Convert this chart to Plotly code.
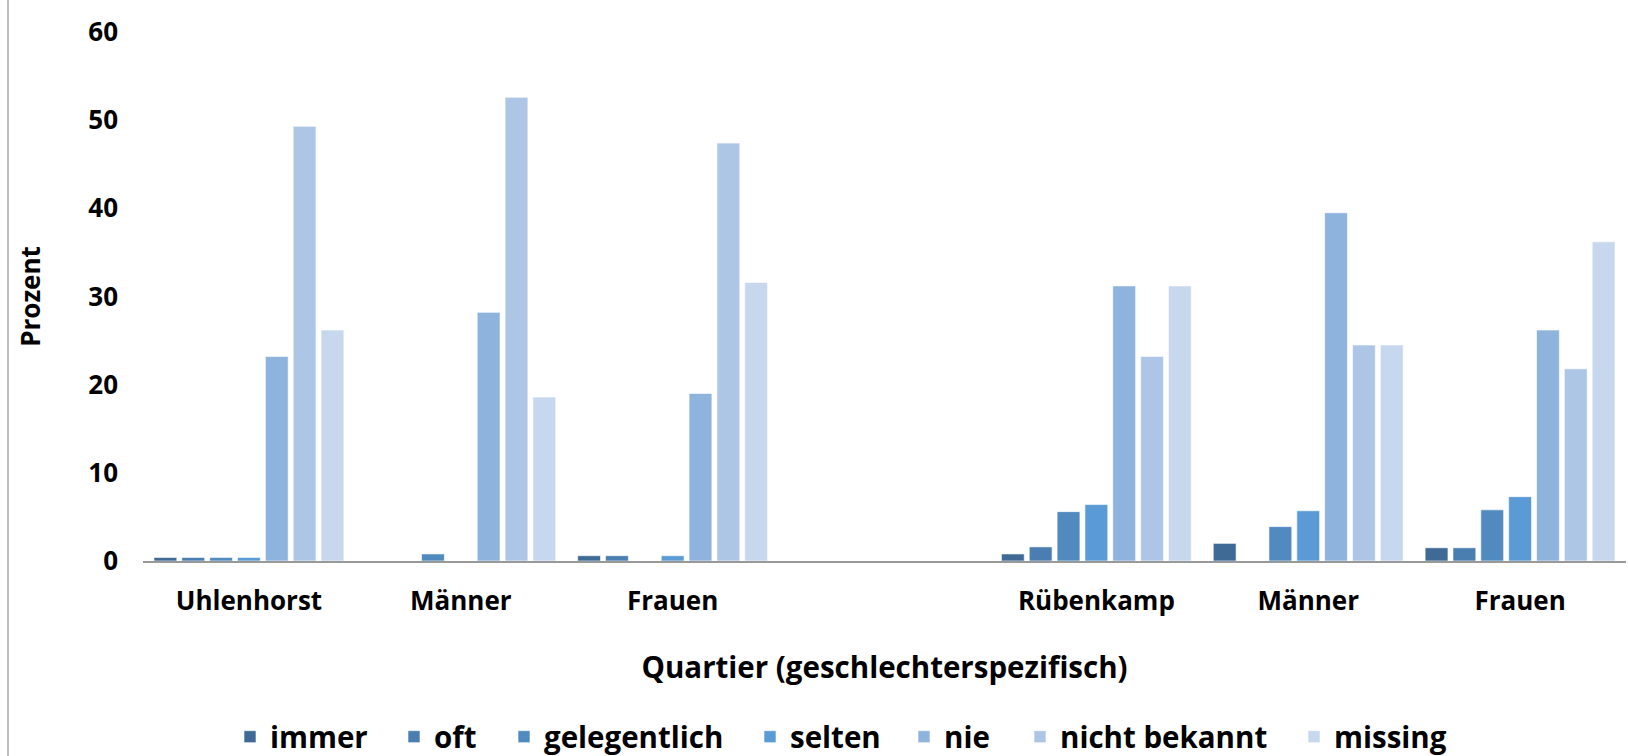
import plotly.graph_objects as go

groups = ["Uhlenhorst", "Männer", "Frauen", "", "Rübenkamp", "Männer", "Frauen"]
series = ["immer", "oft", "gelegentlich", "selten", "nie", "nicht bekannt", "missing"]
colors = ["#3F6A96", "#4A7DB0", "#518ABF", "#5B9BD5", "#8EB3DD", "#AEC6E6", "#C7D8EE"]

immer         = [0.4, 0.0, 0.6, None, 0.8, 2.0, 1.5]
oft           = [0.4, 0.0, 0.6, None, 1.6, 0.0, 1.5]
gelegentlich  = [0.4, 0.8, 0.0, None, 5.6, 3.9, 5.8]
selten        = [0.4, 0.0, 0.6, None, 6.4, 5.7, 7.3]
nie           = [23.2, 28.2, 19.0, None, 31.2, 39.5, 26.2]
nicht_bekannt = [49.3, 52.6, 47.4, None, 23.2, 24.5, 21.8]
missing       = [26.2, 18.6, 31.6, None, 31.2, 24.5, 36.2]

values = [immer, oft, gelegentlich, selten, nie, nicht_bekannt, missing]
ytick_vals = [0, 10, 20, 30, 40, 50, 60]

# left edge (px) of each legend entry
legend_x_px = [230, 394, 504, 750, 904, 1020, 1294]

xpos = list(range(len(groups)))
FONT = "Open Sans"

W, H = 1628, 756
ml, mr, mt, mb = 143, 2, 32, 195

fig = go.Figure()
legends = {}
for i, (name, col, vals) in enumerate(zip(series, colors, values)):
    lg = "legend" if i == 0 else f"legend{i + 1}"
    fig.add_trace(go.Bar(
        x=xpos, y=vals, name=name, legend=lg,
        marker=dict(color=col, line=dict(color="rgba(255,255,255,0.6)", width=1)),
    ))
    legends[lg] = dict(
        xref="container", yref="container",
        x=legend_x_px[i] / W, xanchor="left",
        y=1 - 737 / H, yanchor="middle",
        orientation="h", bgcolor="rgba(0,0,0,0)",
        font=dict(size=29.5, family=FONT, weight="bold", color="black"),
        itemwidth=30,
    )

fig.update_layout(
    width=W, height=H,
    margin=dict(l=ml, r=mr, t=mt, b=mb, autoexpand=False),
    plot_bgcolor="white", paper_bgcolor="white",
    barmode="group", bargap=0.08, bargroupgap=0.18,
    font=dict(family=FONT, color="black"),
    showlegend=True,
    xaxis=dict(
        range=[-0.5, len(groups) - 0.5],
        tickvals=xpos, ticktext=groups,
        tickfont=dict(size=26, family=FONT, weight="bold"),
        showline=True, linecolor="#999999", linewidth=1.5,
        ticks="", showgrid=False, zeroline=False,
        ticklabelstandoff=16,
        title=dict(text="<b>Quartier (geschlechterspezifisch)</b>",
                   font=dict(size=29.5, family=FONT), standoff=40),
    ),
    yaxis=dict(
        range=[0, 60], tickvals=ytick_vals,
        tickfont=dict(size=26, family=FONT, weight="bold"),
        showgrid=False, zeroline=False, showline=False, ticks="",
        ticklabelstandoff=24,
        title=dict(text="<b>Prozent</b>", font=dict(size=26, family=FONT), standoff=40),
    ),
    shapes=[dict(type="line", xref="paper", yref="paper",
                 x0=(8 - ml) / (W - ml - mr), x1=(8 - ml) / (W - ml - mr),
                 y0=-mb / (H - mt - mb), y1=1 + mt / (H - mt - mb),
                 line=dict(color="#AAAAAA", width=1.5))],
    **legends,
)

fig.write_html("out.html")
